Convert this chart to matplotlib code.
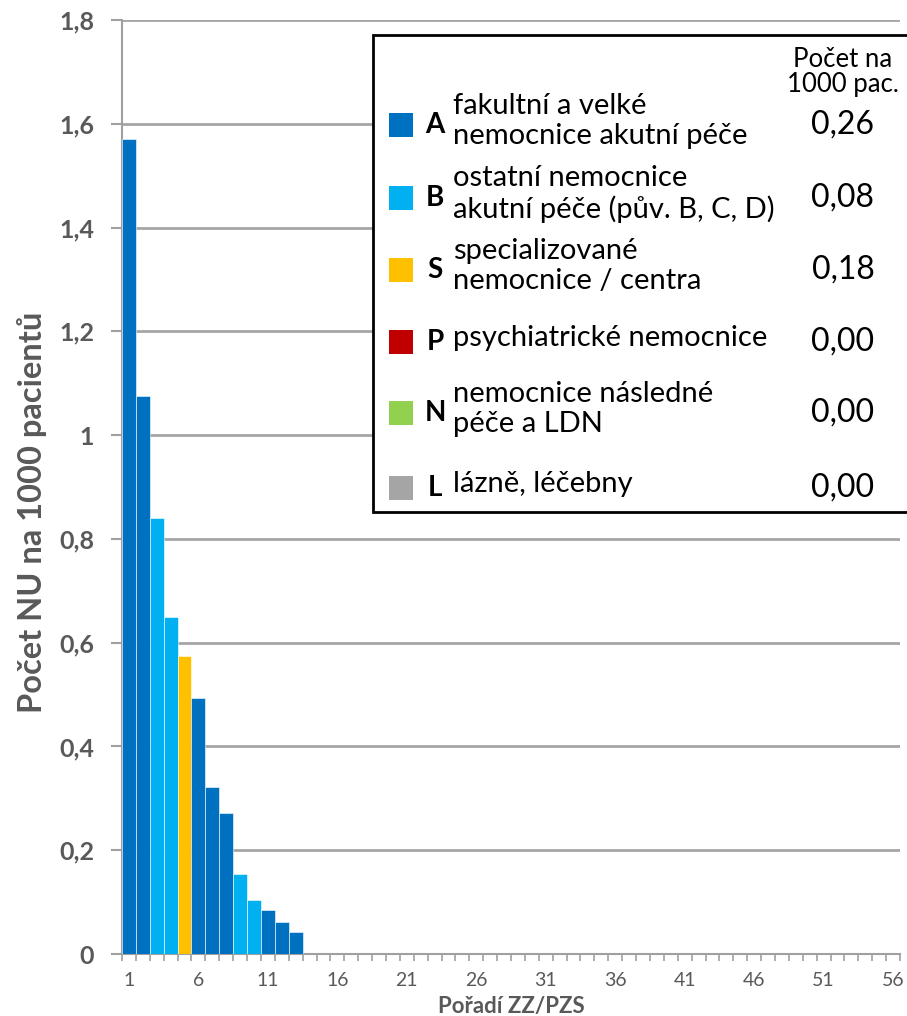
import matplotlib
matplotlib.use("Agg")
import matplotlib.pyplot as plt
from matplotlib.patches import Rectangle
from matplotlib.ticker import FuncFormatter, MultipleLocator

plt.rcParams['font.family'] = ['Lato', 'DejaVu Sans']

# ranks 1..56 on the x axis; only the first 13 facilities have a non-zero value
n_ranks = 56
values = [1.57, 1.075, 0.841, 0.649, 0.574, 0.494, 0.322, 0.272, 0.154, 0.105, 0.084, 0.062, 0.043]
types = ['A', 'A', 'B', 'B', 'S', 'A', 'A', 'A', 'B', 'B', 'A', 'A', 'A']

# legend table
codes = ['A', 'B', 'S', 'P', 'N', 'L']
names = ['fakultní a velké\nnemocnice akutní péče',
         'ostatní nemocnice\nakutní péče (pův. B, C, D)',
         'specializované\nnemocnice / centra',
         'psychiatrické nemocnice',
         'nemocnice následné\npéče a LDN',
         'lázně, léčebny']
rates = ['0,26', '0,08', '0,18', '0,00', '0,00', '0,00']
colors = {'A': '#0070C0', 'B': '#00B0F0', 'S': '#FFC000',
          'P': '#C00000', 'N': '#92D050', 'L': '#A5A5A5'}

gray = '#595959'
W, H = 907, 1016
fig = plt.figure(figsize=(W / 100, H / 100), dpi=100)
ax = fig.add_axes([122 / W, 1 - 954 / H, 778 / W, 934 / H])

ranks = list(range(1, len(values) + 1))
ax.bar(ranks, values, width=1.0, color=[colors[t] for t in types],
       edgecolor='white', linewidth=0.4, zorder=3)

ax.set_xlim(0.5, n_ranks + 0.5)
ax.set_ylim(0, 1.8)
ax.yaxis.set_major_locator(MultipleLocator(0.2))
ax.yaxis.set_major_formatter(FuncFormatter(
    lambda v, p: '0' if abs(v) < 1e-9 else ('1' if abs(v - 1) < 1e-9 else f'{v:.1f}'.replace('.', ','))))
ax.set_xticks(range(1, n_ranks + 1, 5))
ax.set_xticks([x + 0.5 for x in range(0, n_ranks + 1)], minor=True)
ax.tick_params(axis='x', which='major', length=0, labelsize=14, labelcolor=gray, pad=13)
ax.tick_params(axis='x', which='minor', length=5, width=1.2, color='#A0A0A0')
ax.tick_params(axis='y', length=8, width=1.5, color='#A0A0A0', labelsize=18, labelcolor=gray, pad=12)
for lab in ax.get_yticklabels():
    lab.set_fontweight('bold')

ax.grid(axis='y', color='#A6A6A6', linewidth=2, zorder=0)
for s in ['top', 'right']:
    ax.spines[s].set_visible(False)
ax.spines['left'].set_color('#A0A0A0')
ax.spines['left'].set_linewidth(1.5)
ax.spines['bottom'].set_color('#A0A0A0')
ax.spines['bottom'].set_linewidth(1.5)

ax.set_ylabel('Počet NU na 1000 pacientů', fontsize=23.5, fontweight='bold', color=gray, labelpad=9)
ax.yaxis.label.set_y(0.473)
ax.set_xlabel('Pořadí ZZ/PZS', fontsize=16, fontweight='bold', color=gray, labelpad=5)

# legend box in pixel-like figure coordinates
def fx(px):
    return px / W

def fy(py):
    return 1 - py / H

box = Rectangle((fx(373), fy(512)), fx(600), (512 - 35) / H, transform=fig.transFigure,
                facecolor='white', edgecolor='black', linewidth=2, zorder=10)
fig.patches.append(box)

fig.text(fx(843), fy(72), 'Počet na\n1000 pac.', ha='center', va='center',
         fontsize=18.5, linespacing=1.0, zorder=11)
for i, (c, name, r) in enumerate(zip(codes, names, rates)):
    yc = [125, 198, 270, 342, 413, 488][i]
    fig.patches.append(Rectangle((fx(389), fy(yc + 12)), fx(24), 24 / H, transform=fig.transFigure,
                                 facecolor=colors[c], edgecolor='none', zorder=11))
    fig.text(fx(435), fy(yc), c, ha='center', va='center', fontsize=20, fontweight='bold', zorder=11)
    fig.text(fx(453), fy(yc - 4), name, ha='left', va='center', fontsize=21, linespacing=1.22, zorder=11)
    fig.text(fx(843), fy(yc), r, ha='center', va='center', fontsize=23, zorder=11)

fig.savefig('out.png', dpi=100)
